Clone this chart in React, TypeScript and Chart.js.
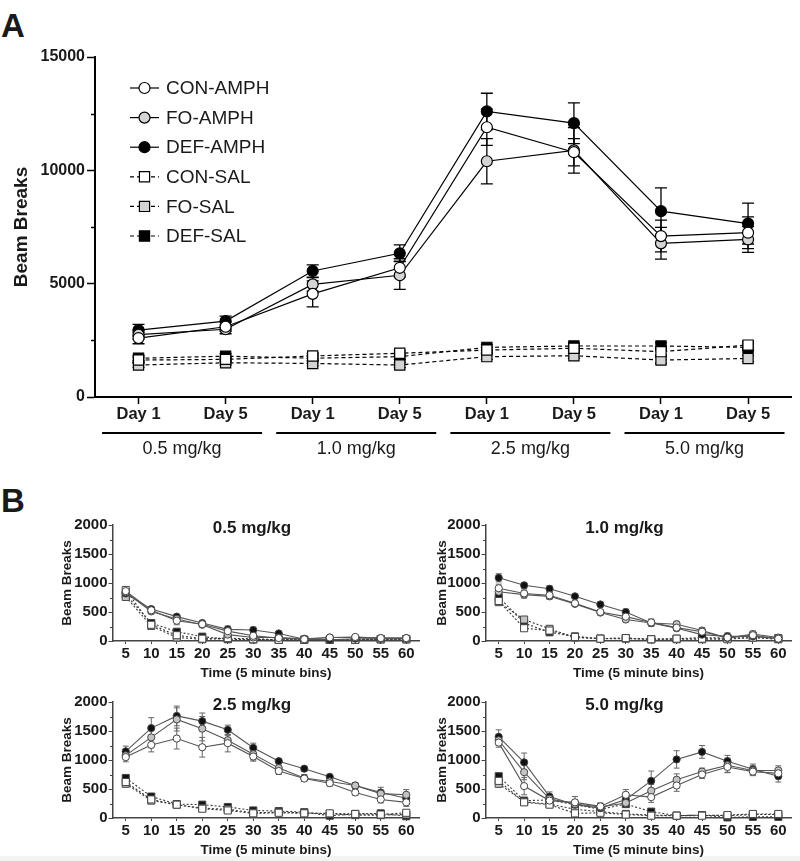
import React, { useEffect, useRef } from 'react';
import { Chart, registerables } from 'chart.js';

Chart.register(...registerables);
Chart.defaults.font.family = '"Liberation Sans", Arial, Helvetica, sans-serif';

// ---------- Panel A data ----------
const dayLabels = ['Day 1', 'Day 5', 'Day 1', 'Day 5', 'Day 1', 'Day 5', 'Day 1', 'Day 5'];
const doseGroups = ['0.5 mg/kg', '1.0 mg/kg', '2.5 mg/kg', '5.0 mg/kg'];
const seriesNames = ['CON-AMPH', 'FO-AMPH', 'DEF-AMPH', 'CON-SAL', 'FO-SAL', 'DEF-SAL'];
const yTicksA = [0, 5000, 10000, 15000];

const aConAmph = [2600, 3100, 4550, 5700, 11900, 10800, 7100, 7250];
const aFoAmph = [2750, 2990, 4970, 5370, 10400, 10880, 6780, 6950];
const aDefAmph = [2950, 3350, 5560, 6340, 12600, 12080, 8200, 7650];
const aConSal = [1630, 1660, 1810, 1930, 2070, 2150, 2000, 2290];
const aFoSal = [1410, 1510, 1480, 1410, 1780, 1820, 1630, 1700];
const aDefSal = [1710, 1800, 1710, 1780, 2190, 2250, 2250, 2190];

const aConAmphErr = [250, 200, 570, 400, 800, 600, 700, 700];
const aFoAmphErr = [200, 200, 300, 620, 1000, 1000, 700, 570];
const aDefAmphErr = [250, 220, 270, 370, 800, 900, 1030, 900];
const aConSalErr = [110, 100, 120, 130, 120, 110, 150, 160];
const aFoSalErr = [100, 100, 110, 110, 120, 120, 140, 140];
const aDefSalErr = [110, 110, 120, 120, 130, 130, 150, 150];

// ---------- Panel B data ----------
const timeBins = ['5', '10', '15', '20', '25', '30', '35', '40', '45', '50', '55', '60'];
const yTicksB = [0, 500, 1000, 1500, 2000];

const b05ConAmph = [860, 530, 350, 290, 170, 90, 50, 30, 60, 70, 50, 50];
const b05FoAmph = [840, 510, 380, 280, 110, 60, 60, 40, 60, 60, 50, 50];
const b05DefAmph = [820, 550, 420, 310, 200, 190, 130, 30, 20, 40, 40, 40];
const b05ConSal = [880, 280, 100, 40, 50, 30, 20, 20, 20, 20, 30, 30];
const b05FoSal = [760, 260, 60, 30, 40, 40, 20, 20, 20, 20, 30, 30];
const b05DefSal = [800, 310, 160, 75, 30, 25, 20, 20, 20, 20, 30, 30];
const b05ConAmphErr = [60, 50, 70, 40, 90, 40, 30, 20, 20, 30, 20, 20];
const b05FoAmphErr = [50, 40, 40, 30, 40, 40, 20, 20, 20, 20, 20, 20];
const b05DefAmphErr = [50, 40, 30, 30, 40, 50, 30, 20, 20, 20, 20, 20];

const b10ConAmph = [910, 820, 790, 650, 500, 420, 320, 230, 160, 60, 100, 40];
const b10FoAmph = [850, 800, 770, 640, 490, 370, 310, 290, 180, 50, 120, 60];
const b10DefAmph = [1090, 960, 900, 770, 630, 500, 310, 220, 110, 80, 80, 40];
const b10ConSal = [690, 220, 180, 70, 40, 50, 30, 40, 40, 30, 60, 40];
const b10FoSal = [670, 370, 210, 60, 40, 40, 30, 30, 30, 40, 60, 30];
const b10DefSal = [760, 310, 150, 80, 40, 50, 30, 40, 60, 50, 90, 50];
const b10ConAmphErr = [70, 60, 50, 30, 40, 60, 60, 50, 60, 60, 60, 20];
const b10FoAmphErr = [50, 60, 50, 30, 40, 40, 50, 50, 50, 50, 50, 20];
const b10DefAmphErr = [70, 50, 50, 30, 40, 50, 50, 40, 40, 60, 50, 20];

const b25ConAmph = [1050, 1260, 1370, 1220, 1290, 1060, 810, 680, 600, 440, 320, 270];
const b25FoAmph = [1080, 1390, 1700, 1540, 1340, 1100, 860, 690, 630, 560, 420, 400];
const b25DefAmph = [1150, 1550, 1760, 1670, 1520, 1210, 980, 850, 710, 560, 440, 340];
const b25ConSal = [620, 320, 230, 160, 130, 80, 90, 80, 80, 70, 60, 90];
const b25FoSal = [590, 300, 230, 170, 150, 90, 100, 90, 70, 50, 50, 60];
const b25DefSal = [690, 370, 240, 230, 190, 130, 120, 100, 40, 70, 80, 30];
const b25ConAmphErr = [80, 120, 180, 170, 150, 80, 60, 40, 50, 50, 60, 70];
const b25FoAmphErr = [60, 180, 200, 210, 80, 100, 50, 60, 40, 50, 50, 90];
const b25DefAmphErr = [90, 180, 170, 140, 80, 80, 40, 40, 40, 40, 90, 80];

const b50ConAmph = [1300, 550, 300, 270, 200, 400, 360, 560, 750, 880, 800, 770];
const b50FoAmph = [1340, 790, 330, 240, 190, 260, 470, 660, 800, 910, 820, 820];
const b50DefAmph = [1400, 960, 370, 230, 170, 320, 640, 1010, 1140, 980, 840, 720];
const b50ConSal = [640, 270, 230, 80, 90, 60, 40, 40, 40, 50, 70, 70];
const b50FoSal = [590, 280, 240, 150, 110, 70, 50, 40, 50, 40, 60, 60];
const b50DefSal = [720, 300, 310, 230, 150, 240, 110, 40, 50, 10, 20, 20];
const b50ConAmphErr = [80, 150, 60, 100, 60, 90, 90, 100, 70, 100, 70, 60];
const b50FoAmphErr = [90, 130, 70, 80, 60, 70, 110, 100, 60, 120, 80, 80];
const b50DefAmphErr = [120, 160, 80, 60, 60, 70, 170, 150, 110, 100, 90, 100];

const TEXT = '#1a1a1a';
const FAM = '"Liberation Sans", Arial, Helvetica, sans-serif';

// ---------- plugins ----------
const errorBarPlugin = {
  id: 'errorBars',
  beforeDatasetsDraw(chart: any, _a: any, opts: any) {
    const ctx = chart.ctx;
    const y = chart.scales.y;
    chart.data.datasets.forEach((ds: any, i: number) => {
      const errs = ds.errors;
      if (!errs) return;
      const meta = chart.getDatasetMeta(i);
      ctx.save();
      ctx.strokeStyle = opts.color;
      ctx.lineWidth = opts.width;
      meta.data.forEach((pt: any, j: number) => {
        const v = ds.data[j];
        const e = errs[j];
        if (!e) return;
        const yt = y.getPixelForValue(v + e);
        const yb = y.getPixelForValue(Math.max(0, v - e));
        const h = opts.cap / 2;
        ctx.beginPath();
        ctx.moveTo(pt.x, yt);
        ctx.lineTo(pt.x, yb);
        ctx.moveTo(pt.x - h, yt);
        ctx.lineTo(pt.x + h, yt);
        ctx.moveTo(pt.x - h, yb);
        ctx.lineTo(pt.x + h, yb);
        ctx.stroke();
      });
      ctx.restore();
    });
  },
};

const minorTickPlugin = {
  id: 'minorTicks',
  afterDraw(chart: any, _a: any, opts: any) {
    if (!opts || !opts.step) return;
    const ctx = chart.ctx;
    const y = chart.scales.y;
    ctx.save();
    ctx.strokeStyle = opts.color;
    ctx.lineWidth = opts.width;
    for (let v = y.min; v <= y.max; v += opts.step) {
      if (v % opts.major === 0) continue;
      const py = Math.round(y.getPixelForValue(v)) + 0.5;
      ctx.beginPath();
      ctx.moveTo(y.right - opts.len, py);
      ctx.lineTo(y.right, py);
      ctx.stroke();
    }
    ctx.restore();
  },
};

const groupLabelPlugin = {
  id: 'groupLabels',
  afterDraw(chart: any, _a: any, opts: any) {
    if (!opts || !opts.labels) return;
    const ctx = chart.ctx;
    const x = chart.scales.x;
    ctx.save();
    opts.labels.forEach((lab: string, g: number) => {
      const c = (x.getPixelForValue(2 * g) + x.getPixelForValue(2 * g + 1)) / 2;
      const ly = x.top + opts.lineOffset;
      ctx.strokeStyle = '#000';
      ctx.lineWidth = 2;
      ctx.beginPath();
      ctx.moveTo(c - opts.halfWidth, ly);
      ctx.lineTo(c + opts.halfWidth, ly);
      ctx.stroke();
      ctx.fillStyle = TEXT;
      ctx.font = `18px ${FAM}`;
      ctx.textAlign = 'center';
      ctx.textBaseline = 'middle';
      ctx.fillText(lab, c, x.top + opts.textOffset);
    });
    ctx.restore();
  },
};

function drawMarker(ctx: any, style: string, x: number, y: number, r: number, fill: string, stroke: string, bw: number) {
  ctx.beginPath();
  if (style === 'rect') {
    const s = r * Math.SQRT1_2;
    ctx.rect(x - s, y - s, 2 * s, 2 * s);
  } else {
    ctx.arc(x, y, r, 0, Math.PI * 2);
  }
  ctx.fillStyle = fill;
  ctx.fill();
  ctx.lineWidth = bw;
  ctx.strokeStyle = stroke;
  ctx.stroke();
}

const customLegendPlugin = {
  id: 'customLegend',
  afterDraw(chart: any, _a: any, opts: any) {
    if (!opts || !opts.show) return;
    const ctx = chart.ctx;
    const area = chart.chartArea;
    ctx.save();
    chart.data.datasets.forEach((ds: any, i: number) => {
      const cy = area.top + opts.y + i * opts.rowH;
      const x0 = area.left + opts.x;
      ctx.strokeStyle = ds.borderColor;
      ctx.lineWidth = ds.borderWidth;
      ctx.setLineDash(ds.borderDash || []);
      ctx.beginPath();
      ctx.moveTo(x0, cy);
      ctx.lineTo(x0 + 29, cy);
      ctx.stroke();
      ctx.setLineDash([]);
      drawMarker(ctx, ds.pointStyle, x0 + 14.5, cy, ds.pointRadius, ds.pointBackgroundColor, ds.pointBorderColor, ds.pointBorderWidth);
      ctx.fillStyle = TEXT;
      ctx.font = `19px ${FAM}`;
      ctx.textAlign = 'left';
      ctx.textBaseline = 'middle';
      ctx.fillText(ds.label, x0 + 36, cy + 1);
    });
    ctx.restore();
  },
};

const subTitlePlugin = {
  id: 'subTitle',
  afterDraw(chart: any, _a: any, opts: any) {
    if (!opts || !opts.text) return;
    const ctx = chart.ctx;
    const a = chart.chartArea;
    ctx.save();
    ctx.fillStyle = TEXT;
    ctx.font = `bold 17px ${FAM}`;
    ctx.textAlign = 'center';
    ctx.textBaseline = 'middle';
    ctx.fillText(opts.text, (a.left + a.right) / 2 - 14, a.top + 3);
    ctx.restore();
  },
};

// ---------- dataset builders ----------
const fills = ['#ffffff', '#d4d4d4', '#000000'];

function datasetsA() {
  const vals = [aConAmph, aFoAmph, aDefAmph, aConSal, aFoSal, aDefSal];
  const errs = [aConAmphErr, aFoAmphErr, aDefAmphErr, aConSalErr, aFoSalErr, aDefSalErr];
  return vals.map((d, i) => {
    const sal = i >= 3;
    return {
      label: seriesNames[i],
      data: d,
      errors: errs[i],
      borderColor: '#000',
      borderWidth: 1.2,
      borderDash: sal ? [4, 3] : [],
      pointStyle: sal ? 'rect' : 'circle',
      pointRadius: sal ? 7.2 : 5.5,
      pointBackgroundColor: fills[i % 3],
      pointBorderColor: '#000',
      pointBorderWidth: 1.2,
      clip: false,
      tension: 0,
    };
  });
}

function datasetsB(vals: number[][], errs: number[][]) {
  return vals.map((d, i) => {
    const sal = i >= 3;
    return {
      label: seriesNames[i],
      data: d,
      errors: sal ? null : errs[i],
      borderColor: sal ? '#3a3a3a' : '#555555',
      borderWidth: 1.1,
      borderDash: sal ? [2, 2] : [],
      pointStyle: sal ? 'rect' : 'circle',
      pointRadius: sal ? 5 : 3.6,
      pointBackgroundColor: i % 3 === 0 ? '#ffffff' : i % 3 === 1 ? '#c4c4c4' : '#111111',
      pointBorderColor: '#444',
      pointBorderWidth: 1,
      clip: false,
      tension: 0,
    };
  });
}

function configA() {
  return {
    type: 'line',
    data: { labels: dayLabels, datasets: datasetsA() },
    plugins: [errorBarPlugin, minorTickPlugin, groupLabelPlugin, customLegendPlugin],
    options: {
      animation: false,
      responsive: false,
      events: [],
      layout: { padding: { left: 0, top: 57, right: 1, bottom: 0 } },
      plugins: {
        legend: { display: false },
        tooltip: { enabled: false },
        errorBars: { color: '#000', width: 1.3, cap: 12 },
        minorTicks: { step: 2500, major: 5000, len: 4, color: '#000', width: 1.5 },
        groupLabels: { labels: doseGroups, lineOffset: 36, textOffset: 52, halfWidth: 80 },
        customLegend: { show: true, x: 35, y: 31, rowH: 29.6 },
      },
      scales: {
        x: {
          type: 'category',
          offset: true,
          grid: { display: true, drawOnChartArea: false, drawTicks: true, tickLength: 7, tickWidth: 1.5, tickColor: '#000', offset: false },
          border: { display: true, color: '#000', width: 2 },
          ticks: { font: { size: 16.5, weight: 'bold' }, color: TEXT, padding: 1, maxRotation: 0, autoSkip: false },
          afterFit: (s: any) => { s.height = 73; },
        },
        y: {
          min: 0,
          max: 15000,
          ticks: {
            stepSize: 2500,
            callback: (v: number) => (yTicksA.includes(v) ? String(v) : ''),
            font: { size: 16, weight: 'bold' },
            color: TEXT,
            padding: 2,
          },
          grid: {
            drawOnChartArea: false,
            tickLength: 8,
            tickWidth: 1.5,
            tickColor: (c: any) => (c.tick && yTicksA.includes(c.tick.value) ? '#000' : 'rgba(0,0,0,0)'),
          },
          border: { display: true, color: '#000', width: 2 },
          title: { display: true, text: 'Beam Breaks', font: { size: 19, weight: 'bold' }, color: TEXT, padding: { top: 10, bottom: 0 } },
          afterFit: (s: any) => { s.width = 95; },
        },
      },
    },
  };
}

function configB(title: string, vals: number[][], errs: number[][], yWidth: number, padRight: number, titlePad: number) {
  return {
    type: 'line',
    data: { labels: timeBins, datasets: datasetsB(vals, errs) },
    plugins: [errorBarPlugin, minorTickPlugin, subTitlePlugin],
    options: {
      animation: false,
      responsive: false,
      events: [],
      layout: { padding: { left: 0, top: 40, right: padRight, bottom: 0 } },
      plugins: {
        legend: { display: false },
        tooltip: { enabled: false },
        errorBars: { color: '#666', width: 1, cap: 6 },
        minorTicks: { step: 250, major: 500, len: 3, color: '#444', width: 1 },
        subTitle: { text: title },
      },
      scales: {
        x: {
          type: 'category',
          offset: true,
          grid: { display: true, drawOnChartArea: false, drawTicks: true, tickLength: 3, tickWidth: 1, tickColor: '#444', offset: false },
          border: { display: true, color: '#444', width: 1.5 },
          ticks: { font: { size: 15, weight: 'bold' }, color: TEXT, padding: 1, maxRotation: 0, autoSkip: false },
          title: { display: true, text: 'Time (5 minute bins)', font: { size: 13.5, weight: 'bold' }, color: TEXT, padding: { top: 0, bottom: 0 } },
          afterFit: (s: any) => { s.height = 40; },
        },
        y: {
          min: 0,
          max: 2000,
          ticks: {
            stepSize: 250,
            callback: (v: number) => (yTicksB.includes(v) ? String(v) : ''),
            font: { size: 15, weight: 'bold' },
            color: TEXT,
            padding: 1,
          },
          grid: {
            drawOnChartArea: false,
            tickLength: 4.5,
            tickWidth: 1,
            tickColor: (c: any) => (c.tick && yTicksB.includes(c.tick.value) ? '#444' : 'rgba(0,0,0,0)'),
          },
          border: { display: true, color: '#444', width: 1.5 },
          title: { display: true, text: 'Beam Breaks', font: { size: 13.5, weight: 'bold' }, color: TEXT, padding: { top: titlePad, bottom: 0 } },
          afterFit: (s: any) => { s.width = yWidth; },
        },
      },
    },
  };
}

function ChartCanvas(props: { left: number; top: number; width: number; height: number; make: () => any }) {
  const ref = useRef<HTMLCanvasElement | null>(null);
  useEffect(() => {
    if (!ref.current) return;
    const chart = new Chart(ref.current, props.make());
    return () => chart.destroy();
  }, []);
  return (
    <canvas
      ref={ref}
      width={props.width}
      height={props.height}
      style={{ position: 'absolute', left: props.left, top: props.top, width: props.width, height: props.height }}
    />
  );
}

const panelLabelStyle: React.CSSProperties = {
  position: 'absolute',
  left: 1,
  fontFamily: FAM,
  fontWeight: 'bold',
  fontSize: 33,
  lineHeight: '33px',
  color: TEXT,
};

export default function App() {
  return (
    <div style={{ position: 'absolute', left: 0, top: 0, width: 800, height: 861, background: '#fff', overflow: 'hidden' }}>
      <div style={{ position: 'absolute', left: 0, top: 856, width: 800, height: 5, background: '#f3f3f3' }} />
      <div style={{ ...panelLabelStyle, top: 9 }}>A</div>
      <div style={{ ...panelLabelStyle, top: 484 }}>B</div>
      <ChartCanvas left={0} top={0} width={800} height={470} make={configA} />
      <ChartCanvas
        left={0} top={485} width={425} height={196}
        make={() => configB('0.5 mg/kg', [b05ConAmph, b05FoAmph, b05DefAmph, b05ConSal, b05FoSal, b05DefSal], [b05ConAmphErr, b05FoAmphErr, b05DefAmphErr], 113, 4, 59)}
      />
      <ChartCanvas
        left={400} top={485} width={400} height={196}
        make={() => configB('1.0 mg/kg', [b10ConAmph, b10FoAmph, b10DefAmph, b10ConSal, b10FoSal, b10DefSal], [b10ConAmphErr, b10FoAmphErr, b10DefAmphErr], 86, 9, 34)}
      />
      <ChartCanvas
        left={0} top={662} width={425} height={196}
        make={() => configB('2.5 mg/kg', [b25ConAmph, b25FoAmph, b25DefAmph, b25ConSal, b25FoSal, b25DefSal], [b25ConAmphErr, b25FoAmphErr, b25DefAmphErr], 113, 4, 59)}
      />
      <ChartCanvas
        left={400} top={662} width={400} height={196}
        make={() => configB('5.0 mg/kg', [b50ConAmph, b50FoAmph, b50DefAmph, b50ConSal, b50FoSal, b50DefSal], [b50ConAmphErr, b50FoAmphErr, b50DefAmphErr], 86, 9, 34)}
      />
    </div>
  );
}
